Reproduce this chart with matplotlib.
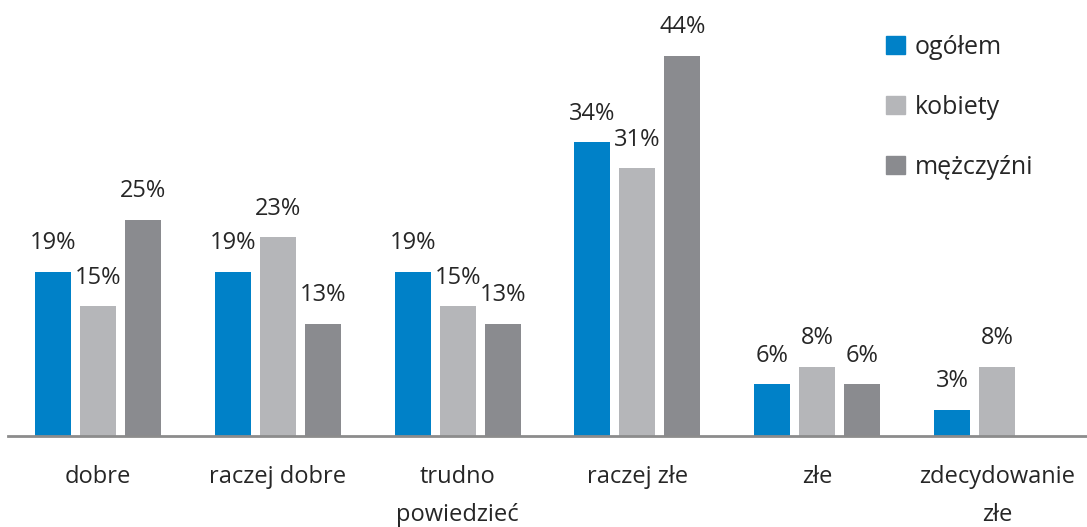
import matplotlib
matplotlib.use("Agg")
import matplotlib.pyplot as plt
import numpy as np
from matplotlib.patches import Patch

categories = ["dobre", "raczej dobre", "trudno\npowiedzieć", "raczej złe", "złe", "zdecydowanie\nzłe"]
series_names = ["ogółem", "kobiety", "mężczyźni"]
ogolem = [19, 19, 19, 34, 6, 3]
kobiety = [15, 23, 15, 31, 8, 8]
mezczyzni = [25, 13, 13, 44, 6, None]
colors = ["#0081C8", "#B5B6B9", "#8A8B8F"]

plt.rcParams['font.family'] = ['Open Sans', 'DejaVu Sans']
fig = plt.figure(figsize=(10.87, 5.27), dpi=100)
ax = fig.add_axes([0.0074, 0.1727, 0.9926, 0.8273])

x = np.arange(len(categories))
width = 0.2
offsets = [-0.25, 0.0, 0.25]
for vals, off, col in zip([ogolem, kobiety, mezczyzni], offsets, colors):
    for xi, v in zip(x, vals):
        if v is None:
            continue
        ax.bar(xi + off, v, width, color=col)
        ax.annotate(f"{v}%", (xi + off, v), xytext=(0, 12), textcoords="offset points",
                    ha="center", va="bottom", fontsize=17, color="#262626")

ax.set_xlim(-0.5, 5.5)
ax.set_ylim(0, 50.5)
for s in ["top", "right", "left"]:
    ax.spines[s].set_visible(False)
ax.spines["bottom"].set_color("#8C8C8C")
ax.spines["bottom"].set_linewidth(2)
ax.set_yticks([])
ax.set_xticks(x)
ax.set_xticklabels(categories, fontsize=17, color="#262626", linespacing=1.75)
ax.tick_params(axis="x", length=0, pad=21)

handles = [Patch(color=c) for c in colors]
leg = ax.legend(handles, series_names, loc="upper left", bbox_to_anchor=(0.793, 0.972),
                frameon=False, fontsize=18, handlelength=0.75, handleheight=0.75,
                handletextpad=0.4, labelspacing=1.4, labelcolor="#262626")

fig.savefig("out.png", dpi=100)
